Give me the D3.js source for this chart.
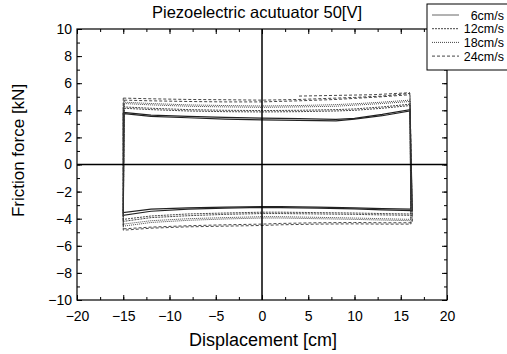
<!DOCTYPE html>
<html>
<head>
<meta charset="utf-8">
<script src="https://cdn.jsdelivr.net/npm/d3@7"></script>
<style>
  body { margin: 0; background: #fff; }
  text { font-family: "Liberation Sans", Arial, sans-serif; fill: #000; }
</style>
</head>
<body>
<main></main>
<script>
// series names and legend styles
const speeds = ["6cm/s", "12cm/s", "18cm/s", "24cm/s"];
const dashes = [null, "2,1", "1,1", "3,2"];

// displacement samples along top / bottom branches
const xTop = [-15, -12, -8, -4, 0, 4, 8, 10, 13, 16];
const xBot = [16, 13, 10, 6, 2, 0, -4, -8, -12, -15];

// friction force (two cycles per speed), top branch then bottom branch
const top6a = [3.85, 3.65, 3.55, 3.48, 3.42, 3.38, 3.33, 3.40, 3.70, 4.05];
const top6b = [3.75, 3.55, 3.45, 3.35, 3.30, 3.25, 3.22, 3.35, 3.60, 3.95];
const bot6a = [-3.30, -3.25, -3.20, -3.15, -3.10, -3.10, -3.15, -3.20, -3.30, -3.55];
const bot6b = [-3.40, -3.35, -3.28, -3.22, -3.18, -3.17, -3.22, -3.30, -3.45, -3.75];

const top12a = [4.25, 4.15, 4.05, 4.00, 3.98, 4.00, 4.05, 4.10, 4.25, 4.45];
const top12b = [4.15, 4.05, 3.95, 3.90, 3.88, 3.90, 3.95, 4.00, 4.15, 4.35];
const bot12a = [-3.65, -3.62, -3.58, -3.55, -3.52, -3.52, -3.58, -3.65, -3.80, -4.05];
const bot12b = [-3.75, -3.72, -3.68, -3.65, -3.62, -3.62, -3.68, -3.78, -3.92, -4.20];

const top18a = [4.60, 4.50, 4.40, 4.35, 4.32, 4.35, 4.42, 4.48, 4.60, 4.75];
const top18b = [4.50, 4.40, 4.30, 4.25, 4.22, 4.25, 4.30, 4.38, 4.50, 4.65];
const bot18a = [-4.05, -4.00, -3.95, -3.90, -3.85, -3.85, -3.92, -4.00, -4.15, -4.40];
const bot18b = [-4.15, -4.10, -4.05, -4.00, -3.95, -3.95, -4.02, -4.12, -4.28, -4.55];

const top24a = [4.90, 4.85, 4.80, 4.78, 4.75, 4.80, 4.90, 4.95, 5.05, 5.25];
const top24b = [4.75, 4.70, 4.65, 4.62, 4.62, 4.70, 4.80, 4.88, 5.00, 5.15];
const bot24a = [-4.40, -4.40, -4.38, -4.40, -4.45, -4.50, -4.55, -4.60, -4.70, -4.85];
const bot24b = [-4.30, -4.30, -4.28, -4.30, -4.35, -4.40, -4.45, -4.52, -4.62, -4.75];
// partial last cycle of 24cm/s (x from 4 to 16)
const xTail24 = [4, 8, 12, 16];
const tail24 = [5.05, 5.10, 5.15, 5.30];

const loops = [
  [[top6a, bot6a], [top6b, bot6b]],
  [[top12a, bot12a], [top12b, bot12b]],
  [[top18a, bot18a], [top18b, bot18b]],
  [[top24a, bot24a], [top24b, bot24b]]
];

const xTicks = [-20, -15, -10, -5, 0, 5, 10, 15, 20];
const yTicks = [-10, -8, -6, -4, -2, 0, 2, 4, 6, 8, 10];

const W = 507, H = 354;
const margin = { top: 29, right: 60, bottom: 54, left: 77 };
const iw = W - margin.left - margin.right;
const ih = H - margin.top - margin.bottom;

const svg = d3.select("main").append("svg")
  .attr("width", W).attr("height", H).attr("viewBox", `0 0 ${W} ${H}`);
const g = svg.append("g").attr("transform", `translate(${margin.left},${margin.top})`);

const scaleX = d3.scaleLinear().domain([-20, 20]).range([0, iw]);
const scaleY = d3.scaleLinear().domain([-10, 10]).range([ih, 0]);

const line = d3.line().x(d => scaleX(d[0])).y(d => scaleY(d[1]));

// loops
loops.forEach((cycles, si) => {
  cycles.forEach(([tp, bt], ci) => {
    const pts = xTop.map((x, i) => [x + (i === 0 ? 0.1 * ci : 0), tp[i]])
      .concat(xBot.map((x, i) => [x + (i === 0 ? 0.15 * ci + 0.1 : 0), bt[i]]));
    pts.push([xTop[0] + 0.1 * ci, tp[0]]);
    g.append("path")
      .attr("fill", "none")
      .attr("stroke", si === 0 ? "#222" : "#333")
      .attr("stroke-width", si === 0 ? 1.2 : 0.9)
      .attr("stroke-dasharray", dashes[si])
      .attr("d", line(pts));
  });
});
g.append("path")
  .attr("fill", "none").attr("stroke", "#333").attr("stroke-width", 0.9)
  .attr("stroke-dasharray", dashes[3])
  .attr("d", line(xTail24.map((x, i) => [x, tail24[i]])));

// zero lines
g.append("line").attr("x1", scaleX(0)).attr("x2", scaleX(0)).attr("y1", 0).attr("y2", ih)
  .attr("stroke", "#000").attr("stroke-width", 1.5);
g.append("line").attr("x1", 0).attr("x2", iw).attr("y1", scaleY(0)).attr("y2", scaleY(0))
  .attr("stroke", "#000").attr("stroke-width", 1.5);

// axes, ticks inward on all four sides
const minorX = d3.range(-20, 20.01, 2.5);
const minorY = d3.range(-10, 10.01, 1);
const fmt = d => d < 0 ? "\u2212" + (-d) : d;
function styleAxis(sel) {
  sel.select(".domain").remove();
  sel.selectAll(".tick line").attr("stroke", "#000");
}
g.append("g").attr("transform", `translate(0,${ih})`)
  .call(d3.axisBottom(scaleX).tickValues(minorX).tickSize(-3).tickFormat(""))
  .call(styleAxis);
g.append("g").attr("transform", `translate(0,${ih})`)
  .call(d3.axisBottom(scaleX).tickValues(xTicks).tickSize(-5).tickPadding(11).tickFormat(fmt))
  .call(styleAxis)
  .selectAll("text").attr("font-size", 14);
g.append("g")
  .call(d3.axisTop(scaleX).tickValues(minorX).tickSize(-3).tickFormat(""))
  .call(styleAxis);
g.append("g")
  .call(d3.axisTop(scaleX).tickValues(xTicks).tickSize(-5).tickFormat(""))
  .call(styleAxis);
g.append("g")
  .call(d3.axisLeft(scaleY).tickValues(minorY).tickSize(-3).tickFormat(""))
  .call(styleAxis);
g.append("g")
  .call(d3.axisLeft(scaleY).tickValues(yTicks).tickSize(-5).tickPadding(5).tickFormat(fmt))
  .call(styleAxis)
  .selectAll("text").attr("font-size", 14);
g.append("g").attr("transform", `translate(${iw},0)`)
  .call(d3.axisRight(scaleY).tickValues(minorY).tickSize(-3).tickFormat(""))
  .call(styleAxis);
g.append("g").attr("transform", `translate(${iw},0)`)
  .call(d3.axisRight(scaleY).tickValues(yTicks).tickSize(-5).tickFormat(""))
  .call(styleAxis);

g.append("rect").attr("width", iw).attr("height", ih)
  .attr("fill", "none").attr("stroke", "#000").attr("stroke-width", 1.2);

// titles
svg.append("text").attr("x", 257).attr("y", 18).attr("text-anchor", "middle")
  .attr("font-size", 16.5).text("Piezoelectric acutuator 50[V]");
svg.append("text").attr("x", margin.left + iw / 2 + 1).attr("y", 346).attr("text-anchor", "middle")
  .attr("font-size", 18).text("Displacement [cm]");
svg.append("text").attr("transform", `translate(24,${margin.top + ih / 2 - 14}) rotate(-90)`)
  .attr("text-anchor", "middle").attr("font-size", 17).text("Friction force [kN]");

// legend
const lg = svg.append("g").attr("transform", "translate(427,4)");
lg.append("rect").attr("width", 90).attr("height", 66)
  .attr("fill", "#fff").attr("stroke", "#000").attr("stroke-width", 1);
speeds.forEach((s, i) => {
  const y = 11 + i * 13.7;
  lg.append("line").attr("x1", 5).attr("x2", 32).attr("y1", y).attr("y2", y)
    .attr("stroke", i === 0 ? "#666" : "#444").attr("stroke-width", 1)
    .attr("stroke-dasharray", dashes[i]);
  lg.append("text").attr("x", 77).attr("y", y + 4.5).attr("text-anchor", "end")
    .attr("font-size", 12.5).text(s);
});
</script>
</body>
</html>
